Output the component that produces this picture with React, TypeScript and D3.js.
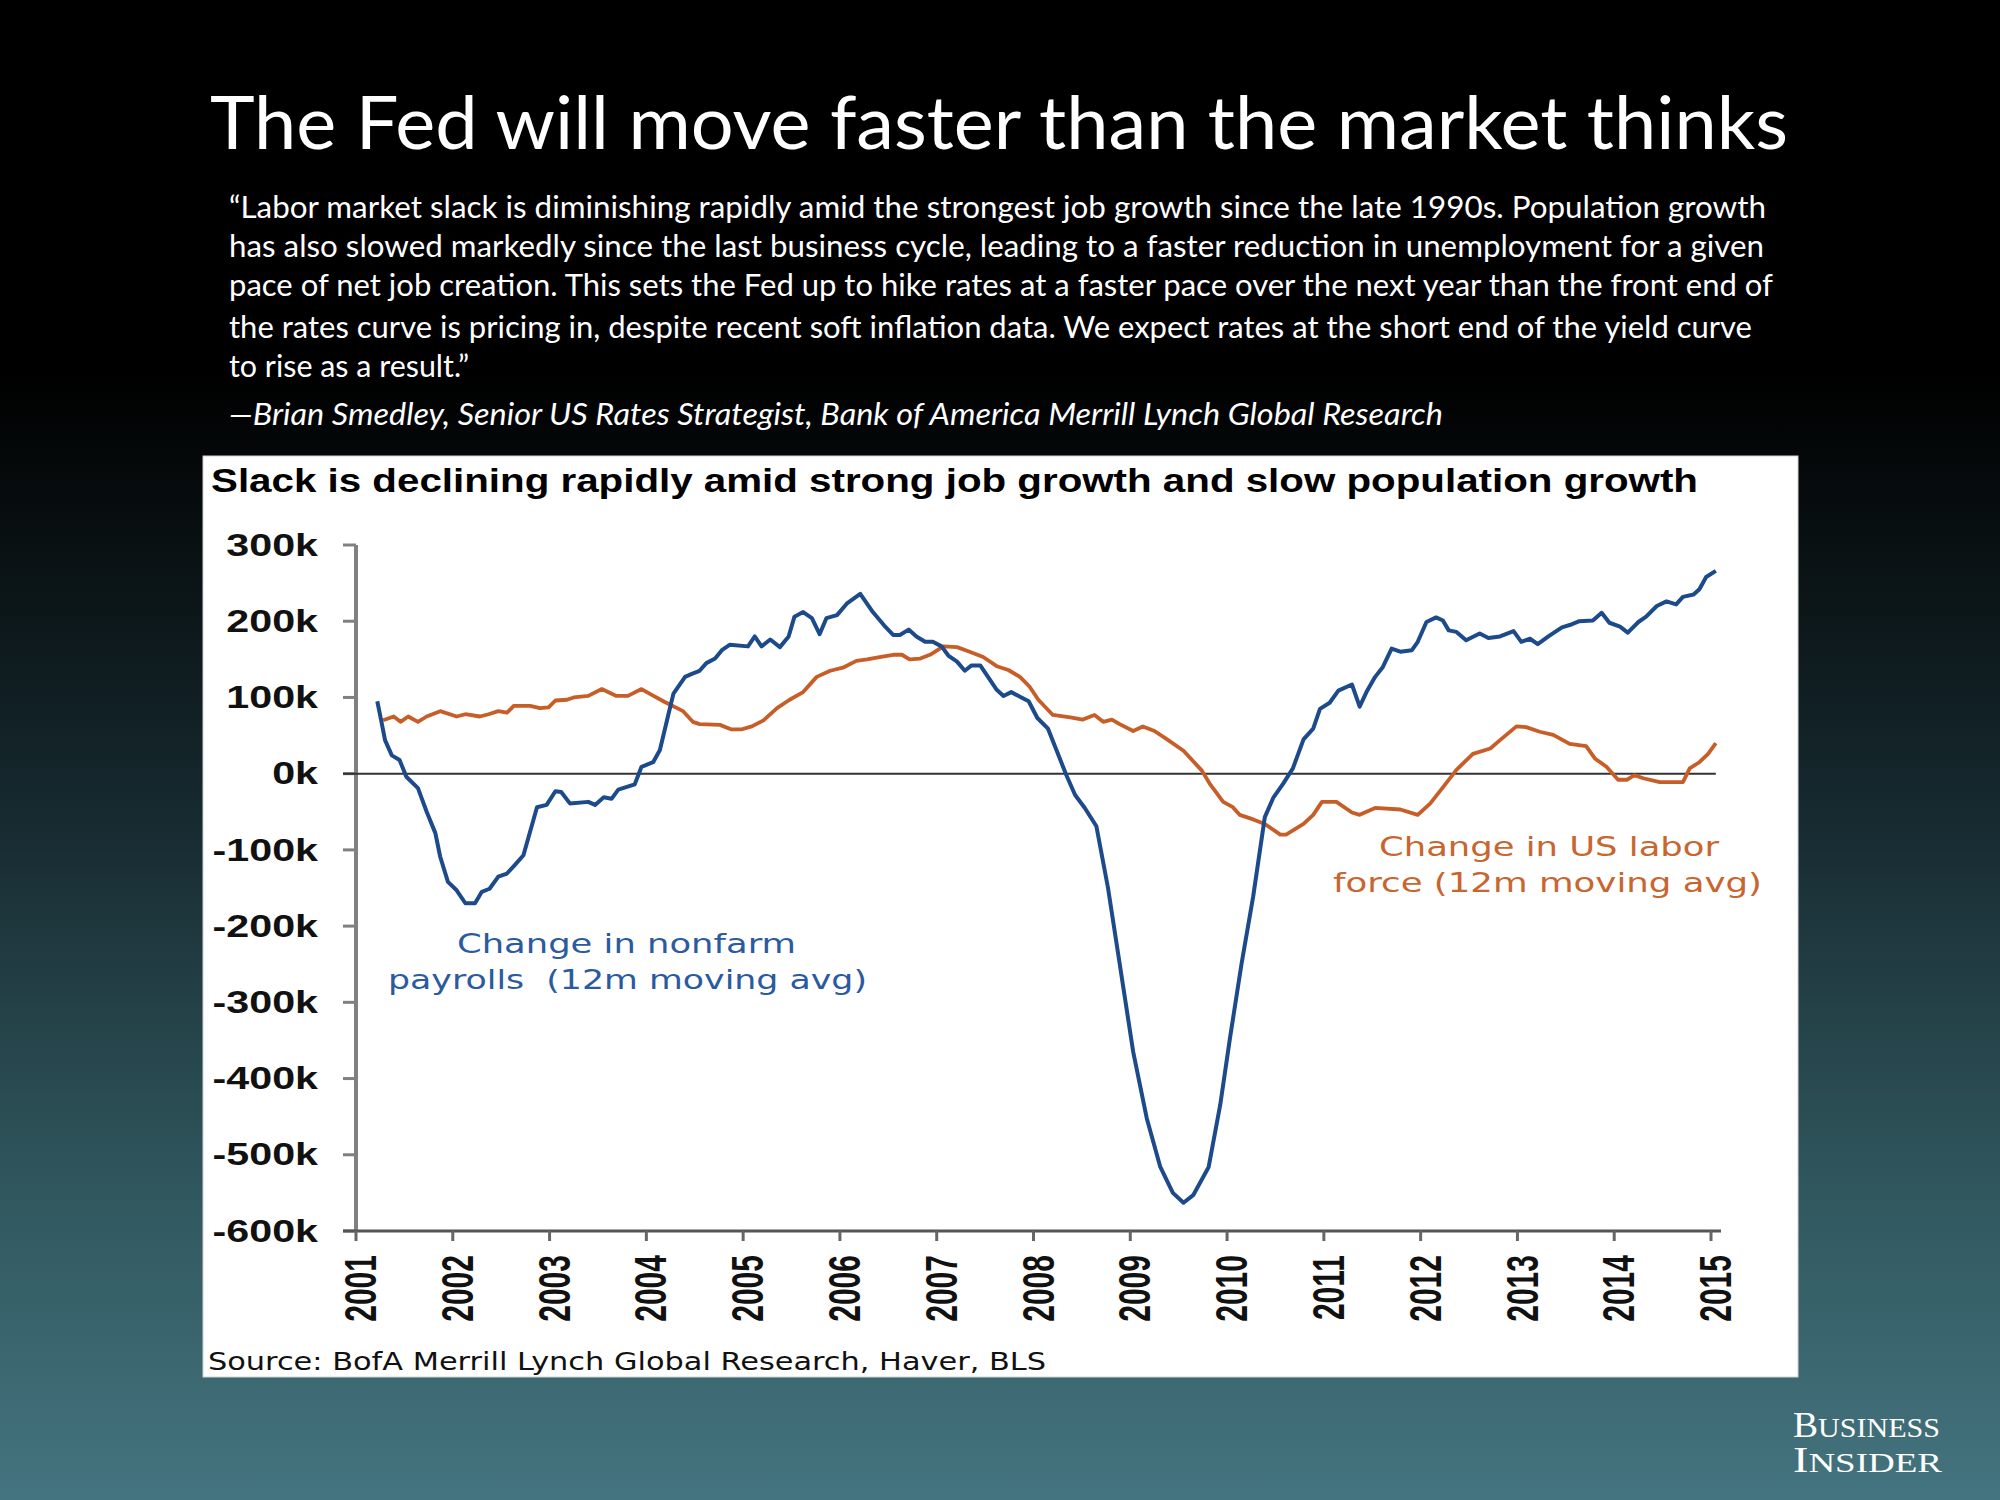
import React from "react";
import * as d3 from "d3";

// ---------- DATA ----------
const payrollDates = [
  2001.22, 2001.26, 2001.3, 2001.37, 2001.45, 2001.52, 2001.64, 2001.73, 2001.82, 2001.87, 2001.95,
  2002.04, 2002.13, 2002.23, 2002.3, 2002.38, 2002.47, 2002.56, 2002.64, 2002.73, 2002.87, 2002.97,
  2003.06, 2003.12, 2003.21, 2003.4, 2003.47, 2003.56, 2003.64, 2003.71, 2003.88, 2003.95,
  2004.07, 2004.14, 2004.23, 2004.28, 2004.4, 2004.47, 2004.55, 2004.62, 2004.71, 2004.78, 2004.86,
  2005.05, 2005.12, 2005.19, 2005.28, 2005.38, 2005.47, 2005.53, 2005.62, 2005.71, 2005.79, 2005.86, 2005.97,
  2006.07, 2006.21, 2006.34, 2006.46, 2006.55, 2006.62, 2006.71, 2006.79, 2006.88, 2006.96,
  2007.05, 2007.12, 2007.21, 2007.29, 2007.36, 2007.45, 2007.53, 2007.62, 2007.69, 2007.77, 2007.86, 2007.95,
  2008.04, 2008.15, 2008.24, 2008.34, 2008.43, 2008.53, 2008.65, 2008.77, 2008.89,
  2009.03, 2009.17, 2009.31, 2009.44, 2009.55, 2009.65, 2009.81, 2009.93,
  2010.03, 2010.15, 2010.27, 2010.39, 2010.48, 2010.58, 2010.68, 2010.79, 2010.89, 2010.96,
  2011.06, 2011.15, 2011.29, 2011.37, 2011.44, 2011.53, 2011.61, 2011.7, 2011.79, 2011.91, 2011.97,
  2012.06, 2012.16, 2012.23, 2012.29, 2012.37, 2012.47, 2012.61, 2012.7, 2012.82, 2012.96,
  2013.04, 2013.13, 2013.21, 2013.32, 2013.46, 2013.54, 2013.64, 2013.78, 2013.87, 2013.95,
  2014.06, 2014.14, 2014.25, 2014.33, 2014.44, 2014.54, 2014.64, 2014.71, 2014.82, 2014.88, 2014.95, 2015.05,
];
const payrollValues = [
  95, 70, 44, 24, 18, -4, -19, -50, -78, -109, -142,
  -153, -170, -170, -155, -151, -135, -131, -120, -107, -44, -41,
  -23, -24, -39, -37, -41, -31, -33, -21, -14, 9,
  15, 31, 79, 105, 127, 131, 135, 145, 151, 162, 169,
  167, 180, 167, 176, 166, 180, 206, 212, 204, 183, 204, 208,
  223, 236, 212, 194, 182, 182, 189, 180, 173, 173,
  167, 155, 147, 135, 142, 142, 127, 110, 102, 107, 101, 95,
  73, 59, 30, -2, -28, -45, -69, -150, -249,
  -365, -452, -516, -550, -563, -553, -516, -434,
  -347, -249, -161, -57, -31, -13, 7, 45, 59, 85,
  93, 109, 117, 88, 107, 127, 140, 164, 160, 162, 173,
  199, 205, 201, 188, 186, 175, 184, 178, 180, 187,
  173, 177, 170, 180, 192, 195, 200, 201, 211, 198,
  193, 185, 199, 206, 220, 226, 222, 232, 235, 242, 258, 266,
];

const laborDates = [
  2001.28, 2001.39, 2001.46, 2001.54, 2001.64, 2001.73, 2001.87,
  2002.04, 2002.13, 2002.28, 2002.37, 2002.47, 2002.56, 2002.63, 2002.8, 2002.9, 2002.99,
  2003.06, 2003.18, 2003.25, 2003.4, 2003.54, 2003.69, 2003.81, 2003.95,
  2004.06, 2004.19, 2004.38, 2004.48, 2004.55, 2004.76, 2004.88, 2004.98,
  2005.09, 2005.21, 2005.35, 2005.48, 2005.62, 2005.76, 2005.9,
  2006.03, 2006.17, 2006.28, 2006.41, 2006.55, 2006.64, 2006.72, 2006.83, 2006.93,
  2007.07, 2007.21, 2007.34, 2007.48, 2007.62, 2007.74, 2007.86, 2007.96,
  2008.05, 2008.2, 2008.38, 2008.51, 2008.63, 2008.72, 2008.81, 2008.89,
  2009.03, 2009.13, 2009.25, 2009.38, 2009.55, 2009.74, 2009.82, 2009.96,
  2010.06, 2010.13, 2010.27, 2010.39, 2010.55, 2010.61, 2010.79, 2010.89, 2010.98,
  2011.13, 2011.29, 2011.37, 2011.53, 2011.79, 2011.97,
  2012.1, 2012.23, 2012.37, 2012.54, 2012.72, 2012.82, 2012.99,
  2013.09, 2013.23, 2013.37, 2013.54, 2013.71, 2013.8, 2013.92,
  2014.04, 2014.13, 2014.21, 2014.3, 2014.47, 2014.71, 2014.78, 2014.88, 2014.97, 2015.05,
];
const laborValues = [
  70, 75, 68, 75, 68, 75, 82,
  75, 78, 75, 78, 82, 80, 89, 89, 86, 87,
  96, 97, 100, 102, 111, 102, 102, 111,
  103, 94, 82, 68, 65, 64, 58, 58,
  62, 70, 86, 97, 107, 127, 135,
  139, 148, 150, 153, 156, 156, 150, 151, 156,
  167, 166, 160, 153, 141, 136, 127, 114,
  97, 77, 74, 71, 77, 68, 71, 65,
  56, 62, 56, 45, 30, 4, -13, -37,
  -44, -54, -60, -66, -80, -80, -66, -54, -37,
  -37, -51, -54, -45, -47, -54,
  -39, -18, 5, 26, 33, 44, 62,
  61, 55, 51, 39, 36, 20, 9,
  -8, -8, -2, -6, -11, -11, 7, 15, 26, 40,
];

const yTicks = [300, 200, 100, 0, -100, -200, -300, -400, -500, -600];
const xYears = [2001, 2002, 2003, 2004, 2005, 2006, 2007, 2008, 2009, 2010, 2011, 2012, 2013, 2014, 2015];

const mainTitle = "The Fed will move faster than the market thinks";
const quoteLines = [
  "\u201CLabor market slack is diminishing rapidly amid the strongest job growth since the late 1990s. Population growth",
  "has also slowed markedly since the last business cycle, leading to a faster reduction in unemployment for a given",
  "pace of net job creation. This sets the Fed up to hike rates at a faster pace over the next year than the front end of",
  "the rates curve is pricing in, despite recent soft inflation data. We expect rates at the short end of the yield curve",
  "to rise as a result.\u201D",
];
const quoteWidths = [1537, 1535, 1544, 1523, 240];
const quoteBaselines = [218, 257, 296, 338, 377];
const attribution = "\u2014Brian Smedley, Senior US Rates Strategist, Bank of America Merrill Lynch Global Research";
const chartTitle = "Slack is declining rapidly amid strong job growth and slow population growth";
const sourceText = "Source: BofA Merrill Lynch Global Research, Haver, BLS";
const payrollLabel = ["Change in nonfarm", "payrolls\u00A0 (12m moving avg)"];
const laborLabel = ["Change in US labor", "force (12m moving avg)"];

const BLUE = "#1c4a8a";
const ORANGE = "#c75d27";
const BLUE_TEXT = "#2b5a9e";
const ORANGE_TEXT = "#c9652f";

export default function App() {
  const x = d3.scaleLinear().domain([2001, 2015]).range([356, 1711]);
  const y = d3.scaleLinear().domain([-600, 300]).range([1231, 545]);

  const line = d3
    .line<[number, number]>()
    .x((d) => x(d[0]))
    .y((d) => y(d[1]))
    .curve(d3.curveLinear);

  const payrollPts: [number, number][] = payrollDates.map((d, i) => [d, payrollValues[i]]);
  const laborPts: [number, number][] = laborDates.map((d, i) => [d, laborValues[i]]);

  const axisLeft = 356;
  const axisBottom = y(-600);
  const annoFont = "'DejaVu Sans', Verdana, sans-serif";

  return (
    <div style={{ position: "absolute", left: 0, top: 0 }}>
      <svg width={2000} height={1500} style={{ display: "block" }}>
        <defs>
          <linearGradient id="bg" x1="0" y1="0" x2="0" y2="1">
            <stop offset="0" stopColor="#000000" />
            <stop offset="0.25" stopColor="#000000" />
            <stop offset="0.55" stopColor="#172b31" />
            <stop offset="0.8" stopColor="#31585f" />
            <stop offset="1" stopColor="#44747f" />
          </linearGradient>
        </defs>
        <rect x={0} y={0} width={2000} height={1500} fill="url(#bg)" />

        {/* Slide title */}
        <text
          x={210}
          y={149}
          fill="#ffffff"
          fontFamily="Lato, 'Open Sans', sans-serif"
          fontSize={74}
          textLength={1578}
          lengthAdjust="spacingAndGlyphs"
        >
          {mainTitle}
        </text>

        {/* Quote */}
        {quoteLines.map((t, i) => (
          <text
            key={i}
            x={229}
            y={quoteBaselines[i]}
            fill="#ffffff"
            fontFamily="Lato, 'Open Sans', sans-serif"
            fontSize={31}
            textLength={quoteWidths[i]}
            lengthAdjust="spacingAndGlyphs"
          >
            {t}
          </text>
        ))}
        <text
          x={229}
          y={425}
          fill="#ffffff"
          fontFamily="Lato, 'Open Sans', sans-serif"
          fontStyle="italic"
          fontSize={31}
          textLength={1214}
          lengthAdjust="spacingAndGlyphs"
        >
          {attribution}
        </text>

        {/* Chart panel */}
        <rect x={203} y={456} width={1595} height={921} fill="#ffffff" stroke="#d0d0d0" strokeWidth={1} />

        <text
          x={211}
          y={492}
          fill="#000000"
          fontFamily="'Liberation Sans', Arial, sans-serif"
          fontWeight="bold"
          fontSize={34}
          textLength={1487}
          lengthAdjust="spacingAndGlyphs"
        >
          {chartTitle}
        </text>

        {/* Y axis */}
        <line x1={axisLeft} x2={axisLeft} y1={y(300)} y2={axisBottom} stroke="#808080" strokeWidth={4} />
        {yTicks.map((t) => (
          <g key={t}>
            <line x1={343} x2={axisLeft} y1={y(t)} y2={y(t)} stroke="#808080" strokeWidth={3} />
            <text
              transform={`translate(318,${y(t)}) scale(1.33,1)`}
              textAnchor="end"
              dominantBaseline="central"
              fill="#111111"
              fontFamily="'Liberation Sans', Arial, sans-serif"
              fontWeight="bold"
              fontSize={31}
            >
              {`${t}k`}
            </text>
          </g>
        ))}

        {/* zero line */}
        <line x1={343} x2={x(2015.05)} y1={y(0)} y2={y(0)} stroke="#333333" strokeWidth={2} />

        {/* X axis */}
        <line x1={343} x2={1721} y1={axisBottom} y2={axisBottom} stroke="#555555" strokeWidth={3} />
        {xYears.map((yr) => (
          <g key={yr}>
            <line x1={x(yr)} x2={x(yr)} y1={axisBottom} y2={axisBottom + 10} stroke="#666666" strokeWidth={3} />
            <text
              transform={`translate(${x(yr) + 5},1255) scale(1.45,1) rotate(-90)`}
              textAnchor="end"
              dominantBaseline="central"
              fill="#111111"
              fontFamily="'Liberation Sans', Arial, sans-serif"
              fontWeight="bold"
              fontSize={30}
            >
              {yr}
            </text>
          </g>
        ))}

        {/* Series */}
        <path d={line(laborPts) || ""} fill="none" stroke={ORANGE} strokeWidth={3.8} strokeLinejoin="round" />
        <path d={line(payrollPts) || ""} fill="none" stroke={BLUE} strokeWidth={4} strokeLinejoin="round" />

        {/* Annotations */}
        <text x={457} y={953} fill={BLUE_TEXT} fontFamily={annoFont} fontSize={27} textLength={339} lengthAdjust="spacingAndGlyphs">
          {payrollLabel[0]}
        </text>
        <text x={388} y={989} fill={BLUE_TEXT} fontFamily={annoFont} fontSize={27} textLength={479} lengthAdjust="spacingAndGlyphs">
          {payrollLabel[1]}
        </text>
        <text x={1379} y={856} fill={ORANGE_TEXT} fontFamily={annoFont} fontSize={27} textLength={340} lengthAdjust="spacingAndGlyphs">
          {laborLabel[0]}
        </text>
        <text x={1333} y={892} fill={ORANGE_TEXT} fontFamily={annoFont} fontSize={27} textLength={429} lengthAdjust="spacingAndGlyphs">
          {laborLabel[1]}
        </text>

        {/* Source */}
        <text
          x={208}
          y={1370}
          fill="#111111"
          fontFamily={annoFont}
          fontSize={24}
          textLength={838}
          lengthAdjust="spacingAndGlyphs"
        >
          {sourceText}
        </text>

        {/* Business Insider logo */}
        <text x={1793} y={1437} fill="#ffffff" fontFamily="'Liberation Serif', 'DejaVu Serif', serif" textLength={147} lengthAdjust="spacingAndGlyphs">
          <tspan fontSize={35}>B</tspan>
          <tspan fontSize={28}>USINESS</tspan>
        </text>
        <text x={1793} y={1472} fill="#ffffff" fontFamily="'Liberation Serif', 'DejaVu Serif', serif" textLength={149} lengthAdjust="spacingAndGlyphs">
          <tspan fontSize={35}>I</tspan>
          <tspan fontSize={28}>NSIDER</tspan>
        </text>
      </svg>
    </div>
  );
}
